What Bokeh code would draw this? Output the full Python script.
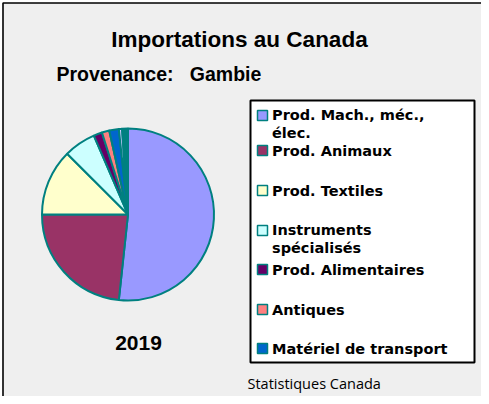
import math
from bokeh.plotting import figure
from bokeh.models import Range1d, ColumnDataSource
from bokeh.embed import file_html
from bokeh.resources import INLINE
from bokeh.core.properties import value

# ---- data ----
categories = ["Prod. Mach., méc.,\nélec.", "Prod. Animaux", "Prod. Textiles",
              "Instruments\nspécialisés", "Prod. Alimentaires", "Antiques",
              "Matériel de transport", "Autres", "Divers"]
shares = [51.7, 23.3, 12.5, 6.0, 1.6, 1.4, 1.8, 0.6, 1.1]
colors = ["#9999FF", "#993366", "#FFFFCC", "#CCFFFF", "#660066", "#FF8080",
          "#0066CC", "#CCCCFF", "#008080"]
legend_count = 7
title_text = "Importations au Canada"
subtitle_text = "Provenance:\u00a0\u00a0 Gambie"
year_text = "2019"
source_text = "Statistiques Canada"

# ---- layout helpers (page pixel -> data) ----
W, H = 481, 396
def X(px):
    return px - 8
def Y(py):
    return H - (py - 8)

p = figure(width=W, height=H, output_backend="svg", toolbar_location=None,
           x_range=Range1d(0, W), y_range=Range1d(0, H),
           x_axis_type=None, y_axis_type=None, min_border=0)
p.grid.visible = False
p.outline_line_color = None
p.background_fill_color = "white"
p.border_fill_color = "white"

# chart area frame
p.quad(left=[X(10.5)], right=[W + 20], top=[Y(10.5)], bottom=[-20],
       fill_color="#EFEFEF", line_color="black", line_width=1.6)

# pie
total = sum(shares)
starts, ends = [], []
cum = 0.0
for s in shares:
    a0 = math.pi / 2 - 2 * math.pi * cum / total
    cum += s
    a1 = math.pi / 2 - 2 * math.pi * cum / total
    starts.append(a1)
    ends.append(a0)
src = ColumnDataSource(dict(start=starts, end=ends, color=colors, cat=categories, share=shares))
cx, cy, r = X(135.5), Y(222), 86
p.wedge(x=cx, y=cy, radius=r, radius_units="screen", start_angle="start", end_angle="end",
        fill_color="color", line_color="#008080", line_width=2, source=src)

# titles
def label(x, y, txt, size, font="Liberation Sans", bold=True, align="center"):
    p.text(x=[X(x)], y=[Y(y)], text=[txt], text_font=value(font),
           text_font_style="bold" if bold else "normal", text_font_size=size,
           text_align=align, text_baseline="middle", text_color="black")

label(247, 47.2, title_text, "22.5px")
label(64, 81.7, subtitle_text, "19.5px", align="left")
label(146, 350.5, year_text, "21px")
label(255, 391, source_text, "14.5px", font="Open Sans", bold=False, align="left")

# legend box
p.quad(left=[X(258)], right=[X(482)], top=[Y(108)], bottom=[Y(370)],
       fill_color="white", line_color="black", line_width=2)
row_y = [123, 158, 198, 238, 277, 317, 356]
line_h = 17
leg_labels = categories[:legend_count]
ly = [Y(v) for v in row_y]
ty = [Y(v + (lab.count("\n")) * line_h / 2) for v, lab in zip(row_y, leg_labels)]
lsrc = ColumnDataSource(dict(x=[X(270)] * legend_count, tx=[X(279.5)] * legend_count,
                             y=ly, ty=ty, color=colors[:legend_count], label=leg_labels))
p.scatter(x="x", y="y", marker="square", size=10, fill_color="color",
          line_color="#008080", line_width=1.5, source=lsrc)
p.text(x="tx", y="ty", text="label", text_font=value("DejaVu Sans"), text_font_style="bold",
       text_font_size="14.5px", text_align="left", text_baseline="middle",
       text_line_height=1.17, text_color="black", source=lsrc)

open("out.html", "w").write(file_html(p, INLINE))
